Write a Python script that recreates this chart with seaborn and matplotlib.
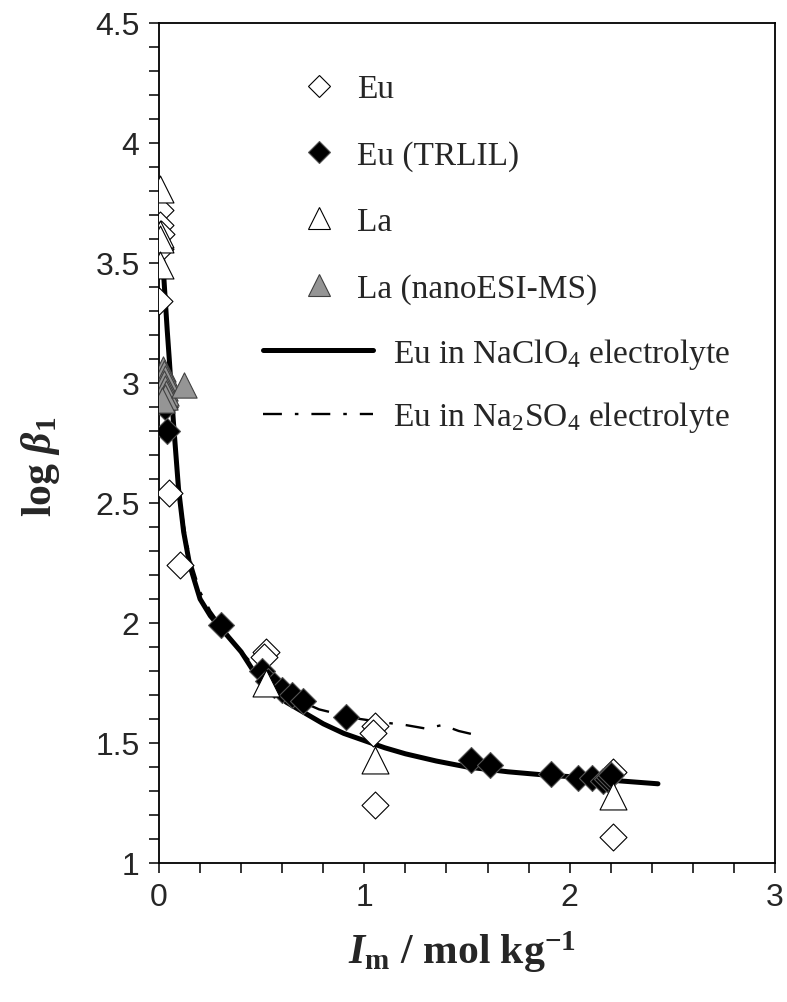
import matplotlib
matplotlib.use("Agg")
import matplotlib.pyplot as plt
import seaborn as sns
import numpy as np
from matplotlib.lines import Line2D
from matplotlib.ticker import MultipleLocator, FuncFormatter

# ---- data ----
eu_x = [0.003, 0.005, 0.008, 0.004, 0.002, 0.05, 0.10, 0.52, 0.51, 1.05, 1.04, 1.05, 2.21, 2.21]
eu_y = [3.72, 3.66, 3.62, 3.56, 3.34, 2.54, 2.24, 1.88, 1.86, 1.57, 1.54, 1.24, 1.38, 1.11]

trlil_x = [0.03, 0.03, 0.04, 0.30, 0.50, 0.53, 0.56, 0.60, 0.65, 0.70, 0.91,
           1.52, 1.61, 1.91, 2.04, 2.11, 2.16, 2.18, 2.19, 2.20]
trlil_y = [2.95, 2.90, 2.80, 1.99, 1.80, 1.76, 1.74, 1.72, 1.70, 1.675, 1.61,
           1.43, 1.41, 1.37, 1.355, 1.355, 1.34, 1.35, 1.36, 1.365]

la_x = [0.005, 0.006, 0.004, 0.005, 0.52, 1.05, 2.21]
la_y = [3.81, 3.62, 3.60, 3.49, 1.75, 1.43, 1.28]

nano_x = [0.02, 0.025, 0.03, 0.025, 0.03, 0.035, 0.03, 0.015, 0.12]
nano_y = [3.06, 3.04, 3.02, 3.00, 2.98, 2.96, 2.94, 2.93, 2.99]

naclo4_x = [0.008, 0.015, 0.025, 0.04, 0.05, 0.07, 0.095, 0.12, 0.15, 0.2, 0.25, 0.3, 0.35,
            0.4, 0.46, 0.52, 0.62, 0.72, 0.8, 0.9, 1.0, 1.1, 1.2, 1.35, 1.5, 1.7, 1.9,
            2.0, 2.2, 2.43]
naclo4_y = [3.65, 3.55, 3.42, 3.22, 3.10, 2.84, 2.56, 2.38, 2.24, 2.10, 2.03, 1.98, 1.93,
            1.88, 1.80, 1.75, 1.67, 1.62, 1.58, 1.54, 1.51, 1.48, 1.455, 1.425, 1.40, 1.38,
            1.365, 1.36, 1.345, 1.33]

na2so4_x = [0.008, 0.015, 0.025, 0.04, 0.05, 0.07, 0.095, 0.12, 0.15, 0.2, 0.25, 0.3, 0.4,
            0.5, 0.6, 0.7, 0.78, 0.9, 0.98, 1.1, 1.2, 1.3, 1.38, 1.46, 1.56]
na2so4_y = [3.66, 3.56, 3.43, 3.24, 3.12, 2.86, 2.58, 2.41, 2.27, 2.13, 2.05, 1.99, 1.88,
            1.79, 1.72, 1.67, 1.64, 1.615, 1.60, 1.585, 1.575, 1.56, 1.575, 1.55, 1.53]

labels = ["Eu", "Eu (TRLIL)", "La", "La (nanoESI-MS)",
          r"Eu in NaClO$_\mathregular{4}$ electrolyte",
          r"Eu in Na$_\mathregular{2}$SO$_\mathregular{4}$ electrolyte"]

# ---- style ----
sns.set_theme(style="ticks")
plt.rcParams["font.family"] = ["Liberation Sans", "DejaVu Sans"]
plt.rcParams["mathtext.fontset"] = "custom"
plt.rcParams["mathtext.rm"] = "Liberation Serif"
plt.rcParams["mathtext.it"] = "Liberation Serif:italic"
plt.rcParams["mathtext.bf"] = "Liberation Serif:bold"
plt.rcParams["mathtext.bfit"] = "Liberation Serif:bold:italic"

W, H = 787, 1003
fig = plt.figure(figsize=(W / 100, H / 100), dpi=100)
L, R, T, B = 159, 775, 24, 864
ax = fig.add_axes([L / W, 1 - B / H, (R - L) / W, (B - T) / H])

# lines
sns.lineplot(x=naclo4_x, y=naclo4_y, ax=ax, color="black", linewidth=3.6,
             sort=False, estimator=None, zorder=2)
sns.lineplot(x=na2so4_x, y=na2so4_y, ax=ax, color="black", linewidth=1.7,
             linestyle=(0, (8, 5.5, 1.5, 5.5)), sort=False, estimator=None, zorder=2)

# points
sns.scatterplot(x=eu_x, y=eu_y, ax=ax, marker="D", s=188, color="white",
                edgecolor="black", linewidth=0.8, zorder=3)
sns.scatterplot(x=trlil_x, y=trlil_y, ax=ax, marker="D", s=175, color="black",
                edgecolor="#555555", linewidth=0.8, zorder=4)
sns.scatterplot(x=la_x, y=la_y, ax=ax, marker="^", s=376, color="white",
                edgecolor="black", linewidth=0.8, zorder=5)
sns.scatterplot(x=nano_x, y=nano_y, ax=ax, marker="^", s=330, color="#959595",
                edgecolor="#404040", linewidth=0.8, zorder=6)

ax.set_xlim(0, 3)
ax.set_ylim(1, 4.5)
ax.xaxis.set_major_locator(MultipleLocator(1))
ax.xaxis.set_minor_locator(MultipleLocator(0.2))
ax.yaxis.set_major_locator(MultipleLocator(0.5))
ax.yaxis.set_minor_locator(MultipleLocator(0.1))
ax.yaxis.set_major_formatter(FuncFormatter(lambda v, p: f"{v:g}"))
ax.xaxis.set_major_formatter(FuncFormatter(lambda v, p: f"{v:g}"))
ax.tick_params(which="both", direction="out", length=7, width=1.1, color="black",
               top=False, right=False)
ax.tick_params(which="major", labelsize=23, pad=7)
for s in ax.spines.values():
    s.set_visible(True)
    s.set_linewidth(1.3)
    s.set_color("black")

ax.set_ylabel(r"log $\mathbfit{\beta}_{\mathbf{1}}$", fontsize=30, fontweight="bold",
              family="Liberation Serif")
ax.yaxis.set_label_coords(-0.158, 0.473)
ax.set_xlabel(r"$\mathbfit{I}_{\mathbf{m}}$ / mol kg$^{\mathbf{-1}}$", fontsize=30,
              fontweight="bold", family="Liberation Serif", va="top")
ax.xaxis.set_label_coords(0.492, -0.078)

# legends
mk_handles = [
    Line2D([], [], marker="D", ls="none", ms=11, mfc="white", mec="black", mew=0.8),
    Line2D([], [], marker="D", ls="none", ms=11, mfc="black", mec="#555555", mew=0.8),
    Line2D([], [], marker="^", ls="none", ms=15.8, mfc="white", mec="black", mew=0.8),
    Line2D([], [], marker="^", ls="none", ms=15.8, mfc="#959595", mec="#404040", mew=0.8),
]
ln_handles = [
    Line2D([], [], color="black", lw=3.6),
    Line2D([], [], color="black", lw=1.7, linestyle=(0, (8, 5.5, 1.5, 5.5))),
]
prop = {"family": "Liberation Serif", "size": 24}
leg1 = ax.legend(mk_handles, labels[:4], loc="upper left",
                 bbox_to_anchor=(299 / W, 1 - 75 / H), bbox_transform=fig.transFigure,
                 frameon=False, prop=prop, handlelength=1.2, handletextpad=0.54,
                 borderpad=0, borderaxespad=0, labelspacing=1.07)
ax.add_artist(leg1)
ax.legend(ln_handles, labels[4:], loc="upper left",
          bbox_to_anchor=(263 / W, 1 - 337 / H), bbox_transform=fig.transFigure,
          frameon=False, prop=prop, handlelength=3.3, handletextpad=0.6,
          borderpad=0, borderaxespad=0, labelspacing=0.85)

fig.savefig("out.png", dpi=100, facecolor="white")
